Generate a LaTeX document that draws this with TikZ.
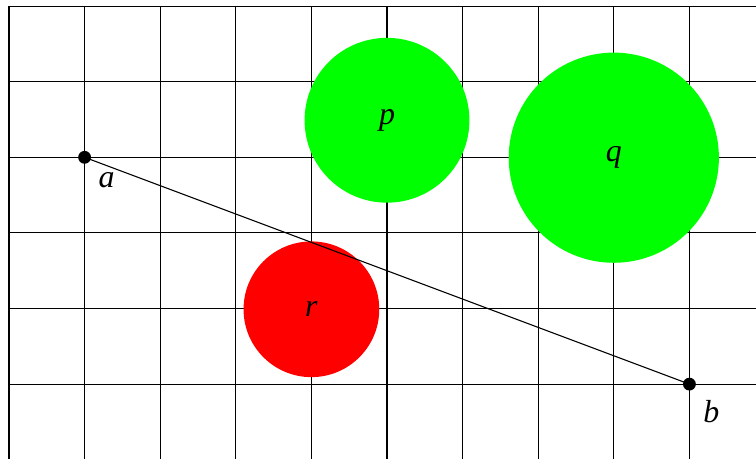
\documentclass[tikz,border=0pt]{standalone}
\usepackage{fontspec}
\setmainfont{Liberation Serif}
\definecolor{pgreen}{RGB}{0,255,0}
\definecolor{pred}{RGB}{255,0,0}
\begin{document}
\begin{tikzpicture}[
  dot/.style={circle,fill=black,inner sep=0pt,minimum size=0.17cm},
  disc/.style={circle,inner sep=0pt,draw=none,font=\large\itshape},
  lbl/.style={inner sep=0pt,font=\large\itshape}
]
\useasboundingbox (-0.119,0.01) rectangle (9.881,6.081);
\begin{scope}
\clip (-0.119,0.01) rectangle (9.881,6.081);
\draw[black] (0,-0.5) grid (10.5,6);
\end{scope}
\node[disc,fill=pgreen,minimum size=2.18cm] (p) at (5,4.49) {p};
\node[disc,fill=pgreen,minimum size=2.78cm] (q) at (8,3.995) {q};
\node[disc,fill=pred,minimum size=1.795cm] (r) at (4,1.99) {r};
\node[dot] (a) at (1,4) {};
\node[dot] (b) at (9,1) {};
\draw (a.center) -- (b.center);
\node[lbl] (la) at (1.29,3.70) {a};
\node[lbl] (lb) at (9.29,0.64) {b};
\end{tikzpicture}
\end{document}
